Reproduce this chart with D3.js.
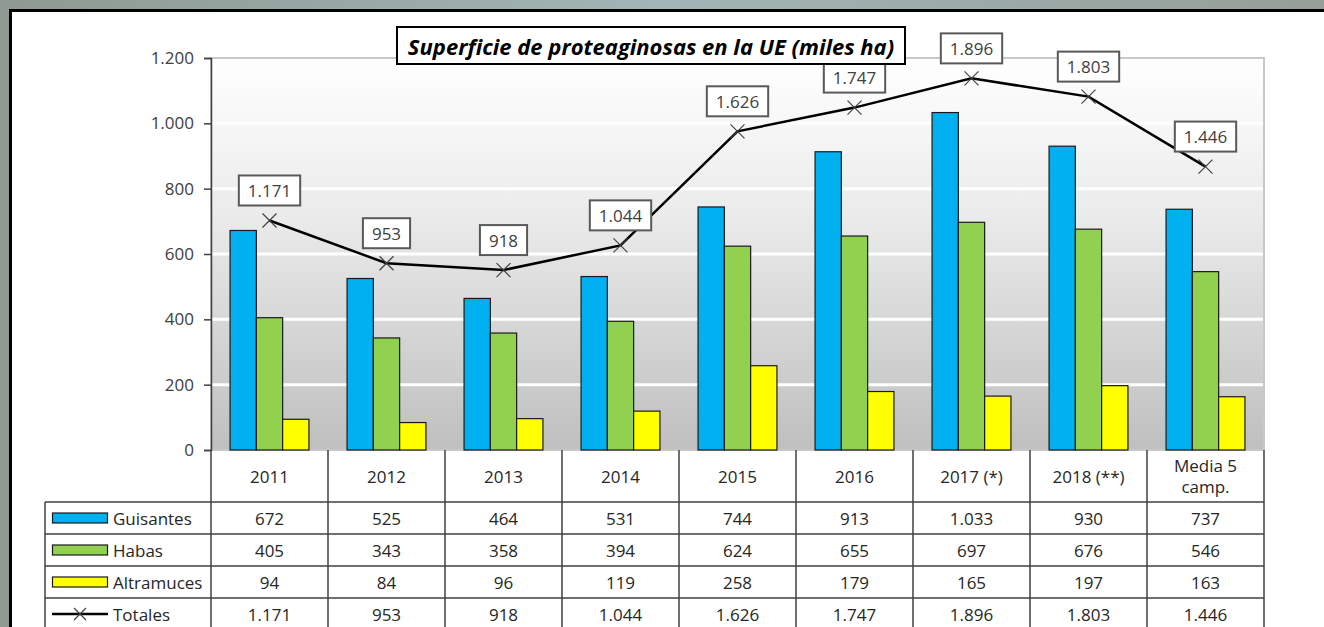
<!DOCTYPE html>
<html>
<head>
<meta charset="utf-8">
<style>
  body { margin: 0; }
  svg { display: block; }
</style>
</head>
<body>
<svg id="svg" width="1324" height="627"></svg>
<script src="https://cdn.jsdelivr.net/npm/d3@7"></script>
<script>
const campaigns = ["2011", "2012", "2013", "2014", "2015", "2016", "2017 (*)", "2018 (**)", "Media 5|camp."];
const guisantes  = [672, 525, 464, 531, 744, 913, 1033, 930, 737];
const habas      = [405, 343, 358, 394, 624, 655, 697, 676, 546];
const altramuces = [94, 84, 96, 119, 258, 179, 165, 197, 163];
const totales    = [1171, 953, 918, 1044, 1626, 1747, 1896, 1803, 1446];
const yTicks = [0, 200, 400, 600, 800, 1000, 1200];

const series = [
  { name: "Guisantes",  values: guisantes,  color: "#00b0f0" },
  { name: "Habas",      values: habas,      color: "#92d050" },
  { name: "Altramuces", values: altramuces, color: "#ffff00" }
];

const es = d3.formatLocale({ decimal: ",", thousands: ".", grouping: [3], currency: ["", "€"] });
const fmt = es.format(",d");

const FONT = "'Open Sans', Lato, sans-serif";
const FS = 17;
const svg = d3.select("#svg");
const W = 1324, H = 627;

// outer background + frame
const defs = svg.append("defs");
const bg = defs.append("linearGradient").attr("id", "bg").attr("x1", 0).attr("x2", 1).attr("y1", 0).attr("y2", 0);
bg.append("stop").attr("offset", 0).attr("stop-color", "#8e9a92");
bg.append("stop").attr("offset", 0.5).attr("stop-color", "#a3b5b7");
bg.append("stop").attr("offset", 1).attr("stop-color", "#959f98");
svg.append("rect").attr("width", W).attr("height", H).attr("fill", "url(#bg)");
svg.append("rect").attr("x", 10.5).attr("y", 10.5).attr("width", W + 20).attr("height", H + 20)
  .attr("fill", "#fff").attr("stroke", "#000").attr("stroke-width", 3);

const pLeft = 211, pRight = 1264, pTop = 58, pBase = 450;

const x = d3.scaleBand().domain(campaigns).range([pLeft, pRight]);
const x1 = d3.scaleBand().domain(series.map(s => s.name)).range([0, x.bandwidth()]).paddingOuter(0.725);
const y = d3.scaleLinear().domain([0, 1200]).range([pBase, pTop]);
const y2 = d3.scaleLinear().domain([0, 2000]).range([pBase, pTop]);

// plot area gradient
const pg = defs.append("linearGradient").attr("id", "pg").attr("x1", 0).attr("x2", 0).attr("y1", 0).attr("y2", 1);
pg.append("stop").attr("offset", 0).attr("stop-color", "#ffffff");
pg.append("stop").attr("offset", 0.4).attr("stop-color", "#ebebeb");
pg.append("stop").attr("offset", 1).attr("stop-color", "#bfbfbf");
svg.append("rect").attr("x", pLeft).attr("y", pTop).attr("width", pRight - pLeft).attr("height", pBase - pTop)
  .attr("fill", "url(#pg)").attr("stroke", "#c8c8c8").attr("stroke-width", 2);

// gridlines
svg.append("g").selectAll("line").data(yTicks.filter(t => t > 0 && t < 1200)).join("line")
  .attr("x1", pLeft).attr("x2", pRight - 1)
  .attr("y1", d => y(d)).attr("y2", d => y(d))
  .attr("stroke", "#fff").attr("stroke-width", 3);

// bars
const groups = svg.append("g").selectAll("g").data(campaigns).join("g")
  .attr("transform", d => `translate(${x(d)},0)`);
groups.selectAll("rect").data((d, i) => series.map(s => ({ s, v: s.values[i] }))).join("rect")
  .attr("x", d => x1(d.s.name)).attr("width", x1.bandwidth())
  .attr("y", d => y(d.v)).attr("height", d => pBase - y(d.v))
  .attr("fill", d => d.s.color).attr("stroke", "#1a1a1a").attr("stroke-width", 1.2);

// y axis
const yAxis = svg.append("g").attr("transform", `translate(${pLeft},0)`)
  .call(d3.axisLeft(y).tickValues(yTicks).tickFormat(fmt).tickSize(7).tickPadding(10));
yAxis.select(".domain").attr("stroke", "#404040").attr("stroke-width", 1.5);
yAxis.selectAll(".tick line").attr("stroke", "#404040").attr("stroke-width", 1.5);
yAxis.selectAll("text").attr("font-family", FONT).attr("font-size", FS).attr("fill", "#404040");

// totals line
const cx = (d, i) => x(campaigns[i]) + x.bandwidth() / 2;
svg.append("path").datum(totales)
  .attr("d", d3.line().x((d, i) => cx(d, i)).y(d => y2(d)))
  .attr("fill", "none").attr("stroke", "#000").attr("stroke-width", 2.5);

function cross(g, px, py, r) {
  g.append("path").attr("d", `M${px - r},${py - r}L${px + r},${py + r}M${px - r},${py + r}L${px + r},${py - r}`)
    .attr("stroke", "#404040").attr("stroke-width", 1.2).attr("fill", "none");
}
const marks = svg.append("g");
totales.forEach((d, i) => cross(marks, cx(d, i), y2(d), 7));

// data labels
const labels = svg.append("g");
totales.forEach((d, i) => {
  const g = labels.append("g");
  const t = g.append("text").text(fmt(d))
    .attr("x", cx(d, i)).attr("y", y2(d) - 30)
    .attr("text-anchor", "middle").attr("dominant-baseline", "central")
    .attr("font-family", FONT).attr("font-size", FS).attr("fill", "#404040");
  const w = t.node().getComputedTextLength() + 18;
  g.insert("rect", "text")
    .attr("x", cx(d, i) - w / 2).attr("y", y2(d) - 45).attr("width", w).attr("height", 30)
    .attr("fill", "#fff").attr("stroke", "#595959").attr("stroke-width", 2);
});

// title
svg.append("rect").attr("x", 397).attr("y", 27).attr("width", 508).attr("height", 37)
  .attr("fill", "#fff").attr("stroke", "#000").attr("stroke-width", 2);
svg.append("text").text("Superficie de proteaginosas en la UE (miles ha)")
  .attr("x", 651).attr("y", 45.5).attr("text-anchor", "middle").attr("dominant-baseline", "central")
  .attr("font-family", FONT).attr("font-size", 22).attr("font-weight", "bold").attr("font-style", "italic")
  .attr("fill", "#000");

// data table
const rowY = [450, 502, 534, 566, 598, 640];
const legendLeft = 45;
const table = svg.append("g").attr("stroke", "#404040").attr("stroke-width", 1.5);
x.domain().forEach(c => {
  table.append("line").attr("x1", x(c)).attr("x2", x(c)).attr("y1", pBase).attr("y2", H + 5);
});
table.append("line").attr("x1", pRight).attr("x2", pRight).attr("y1", pBase).attr("y2", H + 5);
table.append("line").attr("x1", legendLeft).attr("x2", legendLeft).attr("y1", rowY[1]).attr("y2", H + 5);
rowY.slice(1, 5).forEach(ry => {
  table.append("line").attr("x1", legendLeft).attr("x2", pRight).attr("y1", ry).attr("y2", ry);
});

const rowMid = r => r < 3 ? (rowY[r + 1] + rowY[r + 2]) / 2 : 614;
const tt = svg.append("g").attr("font-family", FONT).attr("font-size", FS).attr("fill", "#262626")
  .attr("text-anchor", "middle");
campaigns.forEach(c => {
  const parts = c.split("|");
  const mid = (rowY[0] + rowY[1]) / 2;
  parts.forEach((p, k) => {
    tt.append("text").text(p).attr("x", x(c) + x.bandwidth() / 2)
      .attr("y", mid + (k - (parts.length - 1) / 2) * 21).attr("dominant-baseline", "central");
  });
});
const rows = series.map(s => s.values).concat([totales]);
rows.forEach((vals, r) => {
  vals.forEach((v, i) => {
    tt.append("text").text(fmt(v)).attr("x", x(campaigns[i]) + x.bandwidth() / 2)
      .attr("y", rowMid(r)).attr("dominant-baseline", "central");
  });
});

// legend keys in table
const lg = svg.append("g").attr("font-family", FONT).attr("font-size", FS).attr("fill", "#262626");
series.forEach((s, r) => {
  lg.append("rect").attr("x", 52.5).attr("y", rowMid(r) - 5).attr("width", 55).attr("height", 10)
    .attr("fill", s.color).attr("stroke", "#1a1a1a").attr("stroke-width", 1.2);
  lg.append("text").text(s.name).attr("x", 113).attr("y", rowMid(r)).attr("dominant-baseline", "central");
});
lg.append("line").attr("x1", 52).attr("x2", 108).attr("y1", rowMid(3)).attr("y2", rowMid(3))
  .attr("stroke", "#000").attr("stroke-width", 2.5);
cross(lg, 80, rowMid(3), 6);
lg.append("text").text("Totales").attr("x", 113).attr("y", rowMid(3)).attr("dominant-baseline", "central");
</script>
</body>
</html>
